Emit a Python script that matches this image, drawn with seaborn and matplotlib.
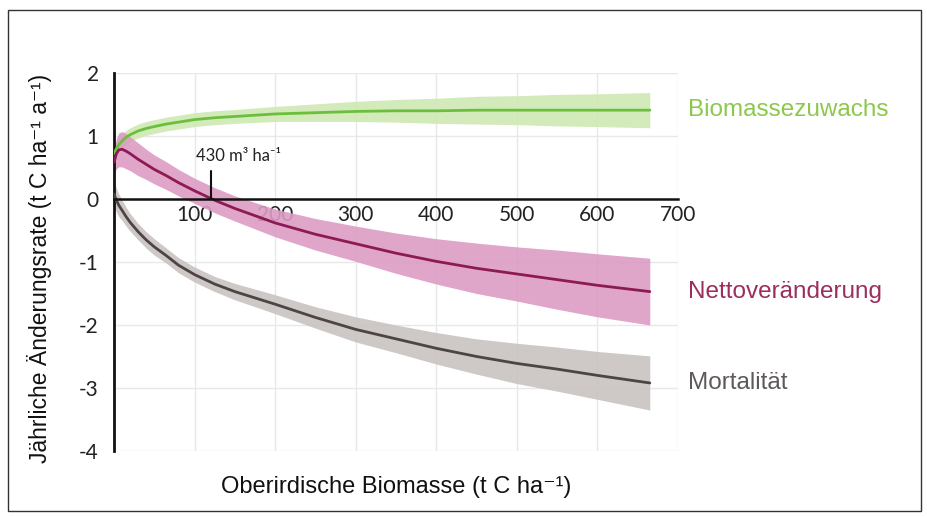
import matplotlib.pyplot as plt
import matplotlib.patches as mpatches
import pandas as pd
import seaborn as sns

sns.set_style('white')
plt.rcParams['font.family'] = ['Liberation Sans', 'DejaVu Sans']
plt.rcParams['axes.unicode_minus'] = False

biomass = [0, 3, 6, 10, 15, 20, 30, 40, 50, 65, 80, 100, 125, 150, 200, 250, 300, 350, 400, 450, 500, 550, 600, 665]

growth = [0.72, 0.80, 0.86, 0.92, 0.98, 1.02, 1.08, 1.12, 1.15, 1.19, 1.22, 1.26, 1.29, 1.31, 1.35,
          1.37, 1.39, 1.40, 1.40, 1.41, 1.41, 1.41, 1.41, 1.41]
growth_err = [0.14, 0.13, 0.12, 0.12, 0.11, 0.11, 0.11, 0.11, 0.11, 0.11, 0.11, 0.11, 0.11, 0.11, 0.12,
              0.14, 0.16, 0.18, 0.20, 0.22, 0.23, 0.25, 0.26, 0.28]

net = [0.58, 0.72, 0.78, 0.79, 0.76, 0.72, 0.63, 0.55, 0.47, 0.37, 0.26, 0.13, -0.02, -0.15, -0.38,
       -0.56, -0.71, -0.86, -0.99, -1.10, -1.19, -1.28, -1.37, -1.47]
net_err = [0.18, 0.24, 0.27, 0.28, 0.28, 0.27, 0.26, 0.24, 0.23, 0.22, 0.21, 0.20, 0.20, 0.20, 0.22,
           0.25, 0.28, 0.32, 0.36, 0.40, 0.43, 0.47, 0.50, 0.53]

mortality = [0.08, -0.02, -0.10, -0.18, -0.28, -0.37, -0.52, -0.65, -0.76, -0.90, -1.05, -1.20, -1.35, -1.47,
             -1.67, -1.88, -2.07, -2.22, -2.37, -2.50, -2.61, -2.70, -2.80, -2.92]
mort_err = [0.20, 0.19, 0.18, 0.16, 0.15, 0.14, 0.13, 0.13, 0.13, 0.12, 0.12, 0.12, 0.12, 0.13,
            0.15, 0.17, 0.20, 0.22, 0.25, 0.28, 0.32, 0.35, 0.38, 0.43]

series = ['Biomassezuwachs', 'Nettoveränderung', 'Mortalität']
line_colors = ['#6cbf3c', '#8e1a55', '#4d4545']
band_colors = ['#cfe8b3', '#dc9cc4', '#c9c3c1']
label_colors = ['#8cc84b', '#9c2d5e', '#5f5959']

df = pd.DataFrame({
    'x': biomass * 3,
    'y': growth + net + mortality,
    'err': growth_err + net_err + mort_err,
    'serie': [s for s in series for _ in biomass],
})

fig = plt.figure(figsize=(9.28, 5.17), dpi=100)
ax = fig.add_axes([114 / 928, 1 - 451 / 517, 564 / 928, 378 / 517])

for name, lc, bc, tc in zip(series, line_colors, band_colors, label_colors):
    d = df[df['serie'] == name]
    ax.fill_between(d['x'], d['y'] - d['err'], d['y'] + d['err'], color=bc, alpha=0.9, lw=0, zorder=1)
    sns.lineplot(data=d, x='x', y='y', color=lc, lw=2, ax=ax, zorder=3)
    ax.text(713, d['y'].iloc[-1], name, color=tc, fontsize=17.5, va='center', clip_on=False)

ax.set_xlim(0, 700)
ax.set_ylim(-4, 2)
ax.set_xticks([100, 200, 300, 400, 500, 600, 700])
ax.set_yticks([-4, -3, -2, -1, 0, 1, 2])
ax.grid(True, color='#e8e8e8', lw=1, zorder=0)
ax.set_axisbelow(True)

ax.spines['top'].set_visible(False)
ax.spines['right'].set_visible(False)
ax.spines['bottom'].set_position(('data', 0))
ax.spines['bottom'].set_linewidth(1.8)
ax.spines['bottom'].set_zorder(4)
ax.spines['left'].set_linewidth(2)
ax.spines['left'].set_color('#111111')
ax.spines['bottom'].set_color('#111111')

tick_font = ['Lato', 'Liberation Sans', 'DejaVu Sans']
ax.tick_params(axis='y', length=8, width=2, color='#111111', labelsize=15, pad=3)
ax.tick_params(axis='x', length=0, labelsize=15, pad=4)
for lab in ax.get_xticklabels() + ax.get_yticklabels():
    lab.set_family(tick_font)
    lab.set_color('#222222')
ax.set_xlabel('')
ax.set_ylabel('')

# marker at the zero crossing
ax.plot([121, 121], [0, 0.45], color='#111111', lw=1.5, zorder=5)
ax.text(102, 0.55, '430 m³ ha⁻¹', fontsize=12, family=tick_font, color='#222222', va='bottom')

fig.text(396 / 928, 1 - 487 / 517, 'Oberirdische Biomasse (t C ha⁻¹)', fontsize=17,
         ha='center', va='center', color='#111111')
fig.text(40 / 928, 1 - 268 / 517, 'Jährliche Änderungsrate (t C ha⁻¹ a⁻¹)', fontsize=16.5,
         ha='center', va='center', rotation=90, color='#111111')

fig.patches.append(mpatches.Rectangle((8 / 928, 1 - 511 / 517), 913 / 928, 501 / 517,
                                      transform=fig.transFigure, fill=False,
                                      edgecolor='#333333', lw=1))

plt.savefig('out.png', dpi=100)
